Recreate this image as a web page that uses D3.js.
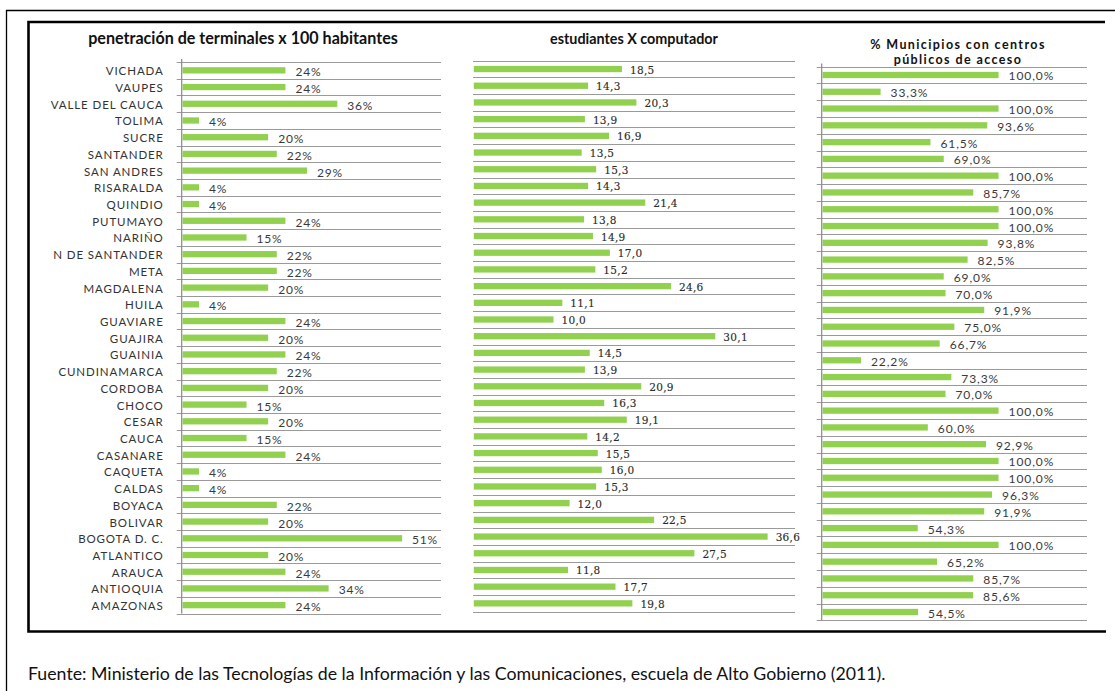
<!DOCTYPE html>
<html><head><meta charset="utf-8">
<script src="https://cdn.jsdelivr.net/npm/d3@7"></script>
<style>
body{margin:0;background:#fff;}
svg{display:block;}
</style></head>
<body>
<script>
const categories = ["VICHADA","VAUPES","VALLE DEL CAUCA","TOLIMA","SUCRE","SANTANDER","SAN ANDRES","RISARALDA","QUINDIO","PUTUMAYO","NARIÑO","N DE SANTANDER","META","MAGDALENA","HUILA","GUAVIARE","GUAJIRA","GUAINIA","CUNDINAMARCA","CORDOBA","CHOCO","CESAR","CAUCA","CASANARE","CAQUETA","CALDAS","BOYACA","BOLIVAR","BOGOTA D. C.","ATLANTICO","ARAUCA","ANTIOQUIA","AMAZONAS"];
const penetracion = [24,24,36,4,20,22,29,4,4,24,15,22,22,20,4,24,20,24,22,20,15,20,15,24,4,4,22,20,51,20,24,34,24];
const estudiantes = [18.5,14.3,20.3,13.9,16.9,13.5,15.3,14.3,21.4,13.8,14.9,17.0,15.2,24.6,11.1,10.0,30.1,14.5,13.9,20.9,16.3,19.1,14.2,15.5,16.0,15.3,12.0,22.5,36.6,27.5,11.8,17.7,19.8];
const municipios = [100,33.3,100,93.6,61.5,69.0,100,85.7,100,100,93.8,82.5,69.0,70.0,91.9,75.0,66.7,22.2,73.3,70.0,100,60.0,92.9,100,100,96.3,91.9,54.3,100,65.2,85.7,85.6,54.5];
const titles = ["penetración de terminales x 100 habitantes","estudiantes X computador",["% Municipios con centros","públicos de acceso"]];
const sourceText = "Fuente: Ministerio de las Tecnologías de la Información y las Comunicaciones, escuela de Alto Gobierno (2011).";

const W = 1115, H = 691;
const GREEN = "#92D050";
const svg = d3.select("body").append("svg").attr("width", W).attr("height", H);

// frames
svg.append("path").attr("d", `M6.5,${H} V10.5 H${W}`).attr("fill","none").attr("stroke","#000").attr("stroke-width",1.3);
svg.append("path").attr("d", "M1105,22 H28.5 V631.5 H1106").attr("fill","none").attr("stroke","#000").attr("stroke-width",2.6);

function fitWidth(t, width){
  const base = parseFloat(t.attr("font-size"));
  const w = t.node().getComputedTextLength();
  t.attr("font-size", base*width/w);
}

function panel(cfg){
  const g = svg.append("g");
  const y = d3.scaleBand().domain(categories).range(cfg.yRange);
  const x = d3.scaleLinear().domain(cfg.domain).range(cfg.xRange);
  const x0 = x(0);
  const bounds = categories.map(c => y(c)).concat([y.range()[1]]);
  g.selectAll("line.grid").data(bounds).join("line")
    .attr("x1", cfg.axis ? x0 - 5 : x0).attr("x2", x.range()[1])
    .attr("y1", d => Math.round(d)+0.5).attr("y2", d => Math.round(d)+0.5)
    .attr("stroke", "#9a9a9a").attr("stroke-width", 1);
  if (cfg.axis){
    g.append("line").attr("x1", x0).attr("x2", x0)
      .attr("y1", y.range()[0]-3).attr("y2", y.range()[1])
      .attr("stroke","#8a8a8a").attr("stroke-width",1.2);
  }
  const bh = 6.3;
  g.selectAll("rect").data(cfg.values).join("rect")
    .attr("x", x0+0.8)
    .attr("y", (d,i) => y(categories[i]) + y.bandwidth()/2 - bh/2)
    .attr("width", d => x(d) - x0 - 0.8)
    .attr("height", bh)
    .attr("fill", GREEN);
  g.selectAll("text.val").data(cfg.values).join("text")
    .attr("class","val")
    .attr("x", d => x(d) + cfg.labelGap)
    .attr("y", (d,i) => y(categories[i]) + y.bandwidth()/2 + cfg.labelDy)
    .attr("font-family", cfg.valFont).attr("font-size", cfg.valSize)
    .attr("font-weight", cfg.valWeight || "normal")
    .attr("letter-spacing", cfg.valSpacing || 0)
    .attr("fill", cfg.valFill || "#3a3a3a")
    .attr("stroke", cfg.valStroke || "none").attr("stroke-width", 0.12)
    .attr("dominant-baseline","central")
    .text(cfg.fmt);
  if (cfg.cats){
    g.selectAll("text.cat").data(categories).join("text")
      .attr("class","cat")
      .attr("x", x0 - 18)
      .attr("y", d => y(d) + y.bandwidth()/2 + 0.5)
      .attr("text-anchor","end")
      .attr("dominant-baseline","central")
      .attr("font-family","Lato, 'Open Sans', sans-serif")
      .attr("font-size", 11.5)
      .attr("letter-spacing", 0.9)
      .attr("fill","#333")
      .text(d => d);
  }
  return g;
}

panel({yRange:[62,613.5], domain:[0,60], xRange:[181.7,441], axis:true, cats:true,
  values: penetracion, labelGap: 10, labelDy: 1.5, valFont:"Lato, sans-serif", valSize:12, valSpacing:0.8,
  fmt: d => d + "%"});
panel({yRange:[60.7,611.7], domain:[0,40], xRange:[473,795], axis:false, cats:false,
  values: estudiantes, labelGap: 8, labelDy: 0.5, valFont:"'DejaVu Serif', serif", valSize:10.5, valSpacing:0.3,
  valFill:"#2a2a2a", valStroke:"#2a2a2a", fmt: d => d.toFixed(1).replace(".", ",")});
panel({yRange:[66.6,620.4], domain:[0,150], xRange:[821.7,1087], axis:true, cats:false,
  values: municipios, labelGap: 10, labelDy: 1, valFont:"Lato, sans-serif", valSize:12, valSpacing:0.9,
  fmt: d => d.toFixed(1).replace(".", ",") + "%"});

// titles
const t1 = svg.append("text").attr("x",243).attr("y",37).attr("text-anchor","middle").attr("dominant-baseline","central")
  .attr("font-family","Lato, sans-serif").attr("font-weight","bold").attr("font-size",13).attr("fill","#111").text(titles[0]);
fitWidth(t1, 310);
const t2 = svg.append("text").attr("x",634).attr("y",38).attr("text-anchor","middle").attr("dominant-baseline","central")
  .attr("font-family","Lato, sans-serif").attr("font-weight","bold").attr("font-size",11).attr("fill","#111").text(titles[1]);
fitWidth(t2, 168);
titles[2].forEach((s,i) => {
  svg.append("text").attr("x",958).attr("y",44 + i*15.5).attr("text-anchor","middle").attr("dominant-baseline","central")
    .attr("font-family","Lato, sans-serif").attr("font-weight","bold").attr("font-size",12.5).attr("letter-spacing",1.4).attr("fill","#111").text(s);
});

const src = svg.append("text").attr("x",28).attr("y",673).attr("dominant-baseline","central")
  .attr("font-family","Lato, sans-serif").attr("font-size",15).attr("fill","#111").text(sourceText);
fitWidth(src, 858);
</script>
</body></html>
